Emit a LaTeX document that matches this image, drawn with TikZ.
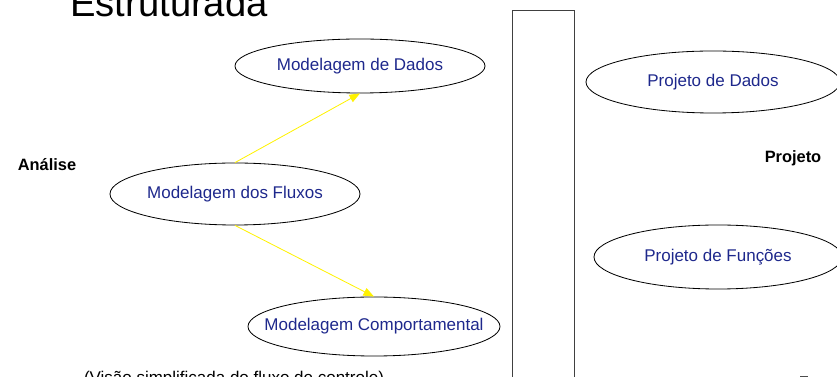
\documentclass[tikz,border=0pt]{standalone}
\usepackage{fontspec}
\setmainfont{Liberation Sans}
\usetikzlibrary{shapes.geometric,arrows.meta}
\definecolor{navytext}{RGB}{30,40,140}

\begin{document}
\begin{tikzpicture}[x=0.03cm,y=-0.03cm]
\tikzset{bubble/.style={draw=black,line width=.7pt,ellipse,inner sep=0pt,text=navytext,font=\fontsize{14.5}{17}\selectfont},
	flow/.style={draw=yellow,line width=.7pt,-{Triangle[length=9pt,width=7pt]}},
	phase/.style={font=\fontsize{14}{17}\selectfont\bfseries,anchor=base}}
\useasboundingbox (0,0) rectangle (837,377);
\clip (0,0) rectangle (837,377);

\node[anchor=base,font=\fontsize{32.6}{38}\selectfont] (titulo) at (169,16.5) {Estruturada};
\node[phase] (analise) at (47,170.7) {Análise};
\node[phase] (projeto) at (793,162.7) {Projeto};

\draw[line width=.7pt,black!75] (512,10.7) rectangle (574.7,400);

% analise
\node[bubble,minimum width=7.5cm,minimum height=1.62cm] (dados) at (360,66) {Modelagem de Dados};
\node[bubble,minimum width=7.5cm,minimum height=1.86cm] (fluxos) at (235,194) {Modelagem dos Fluxos};
\node[bubble,inner xsep=-20pt,minimum width=7.56cm,minimum height=1.77cm] (comport) at (374,326.5) {Modelagem Comportamental};

% projeto
\node[bubble,minimum width=7.62cm,minimum height=1.86cm] (pdados) at (713,82) {Projeto de Dados};
\node[bubble,minimum width=7.44cm,minimum height=1.92cm] (pfuncoes) at (718,257) {Projeto de Funções};

\draw[flow] (fluxos.north) -- (dados.south);
\draw[flow] (fluxos.south) -- (comport.north);

\node[anchor=base,font=\fontsize{14.5}{17}\selectfont] (legenda) at (234,384) {(Visão simplificada do fluxo de controle)};
\draw[black!70,line width=.7pt] (800,376.6) -- (808,376.6);
\end{tikzpicture}
\end{document}
